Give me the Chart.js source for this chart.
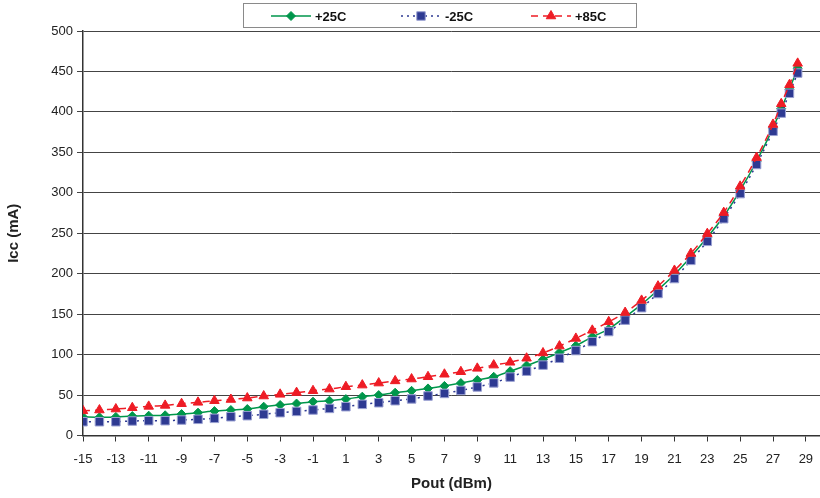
<!DOCTYPE html>
<html>
<head>
<meta charset="utf-8">
<style>
  html, body { margin: 0; padding: 0; background: #ffffff; }
  #wrap { width: 820px; height: 498px; }
</style>
<script src="https://cdn.jsdelivr.net/npm/chart.js@4.4.1/dist/chart.umd.min.js"></script>
</head>
<body>
<div id="wrap"><canvas id="chart" width="820" height="498"></canvas></div>
<script>
// Output power sweep (dBm)
const pout = [-15, -14, -13, -12, -11, -10, -9, -8, -7, -6, -5, -4, -3, -2, -1, 0,
  1, 2, 3, 4, 5, 6, 7, 8, 9, 10, 11, 12, 13, 14, 15, 16, 17, 18, 19, 20,
  21, 22, 23, 24, 25, 26, 27, 27.5, 28, 28.5];

// Supply current (mA) at each temperature
const icc25 = [23, 22.5, 23, 24, 24.5, 25, 26.5, 28.2, 30.2, 31.5, 32.7, 35.6, 37.7, 39.5, 41.8, 43,
  45, 48, 50, 52.9, 55.2, 58.2, 61.3, 64.8, 68.5, 72.6, 79.5, 86.5, 94, 102.5, 111, 122,
  131.5, 146.5, 162, 180, 199, 221, 245, 271, 303, 339, 380, 404, 428, 454];
const iccMinus25 = [17, 17, 17, 17.9, 18.3, 18.3, 19.1, 20, 21.2, 23.2, 24.5, 26.2, 28.2, 29.8, 31.5, 33.5,
  35.6, 38.5, 40.5, 43, 45.2, 48.8, 52, 55.7, 60, 65, 72.2, 79.5, 87, 95.5, 105, 116,
  128.5, 142.6, 158, 175.5, 194, 216.5, 240, 268, 299, 335, 376, 398.5, 423, 448];
const icc85 = [30.5, 31.5, 32.7, 34.3, 36, 37.2, 39.3, 41, 43, 44.5, 46.3, 48.8, 50.9, 53, 55.3, 57.4,
  60.3, 62.3, 64.8, 67.5, 69.8, 72.6, 75.7, 78.8, 83, 87, 90.5, 95.5, 102, 110.5, 120, 130,
  140.5, 152, 167, 184.6, 204, 225, 249.5, 275.5, 308, 343.5, 384.5, 410, 433.5, 460];

// Axis tick labels
const xTicks = [-15, -13, -11, -9, -7, -5, -3, -1, 1, 3, 5, 7, 9, 11, 13, 15, 17, 19, 21, 23, 25, 27, 29];
const yTicks = [0, 50, 100, 150, 200, 250, 300, 350, 400, 450, 500];

const seriesNames = ['+25C', '-25C', '+85C'];

const pairs = ys => pout.map((x, i) => ({ x: x, y: ys[i] }));

const FONT = "'Liberation Sans', Arial, Helvetica, sans-serif";

// Boxed legend across the top, each entry showing line style + marker
const boxedLegend = {
  id: 'boxedLegend',
  afterDraw(chart) {
    const ctx = chart.ctx;
    ctx.save();
    ctx.strokeStyle = '#8a8a8a';
    ctx.lineWidth = 1;
    ctx.strokeRect(243.5, 3.5, 393, 24);
    const cy = 16;
    chart.data.datasets.forEach((ds, i) => {
      const x0 = 271 + 130 * i;
      ctx.save();
      ctx.strokeStyle = ds.borderColor;
      ctx.lineWidth = ds.borderWidth;
      ctx.setLineDash(ds.borderDash || []);
      ctx.beginPath();
      ctx.moveTo(x0, cy);
      ctx.lineTo(x0 + 40, cy);
      ctx.stroke();
      ctx.restore();
      ctx.save();
      ctx.fillStyle = ds.pointBackgroundColor;
      ctx.strokeStyle = ds.pointBorderColor;
      ctx.lineWidth = ds.pointBorderWidth;
      Chart.helpers.drawPoint(ctx, { pointStyle: ds.pointStyle, radius: ds.pointRadius, borderWidth: ds.pointBorderWidth, rotation: 0 }, x0 + 20, cy);
      ctx.restore();
      ctx.fillStyle = '#111';
      ctx.font = 'bold 13px ' + FONT;
      ctx.textBaseline = 'middle';
      ctx.textAlign = 'left';
      ctx.fillText(ds.label, x0 + 44, cy + 1);
    });
    ctx.restore();
  }
};

new Chart(document.getElementById('chart'), {
  type: 'line',
  data: {
    datasets: [
      {
        label: seriesNames[0],
        data: pairs(icc25),
        borderColor: '#00964b',
        borderWidth: 1.5,
        tension: 0.3,
        pointStyle: 'rectRot',
        pointRadius: 4.5,
        pointBackgroundColor: '#00964b',
        pointBorderColor: '#00964b',
        pointBorderWidth: 1,
        order: 3
      },
      {
        label: seriesNames[1],
        data: pairs(iccMinus25),
        borderColor: '#2e3a92',
        borderWidth: 1.5,
        borderDash: [2, 4],
        tension: 0.3,
        pointStyle: 'rect',
        pointRadius: 6,
        pointBackgroundColor: '#2e3a92',
        pointBorderColor: '#9aa0d2',
        pointBorderWidth: 1,
        order: 2
      },
      {
        label: seriesNames[2],
        data: pairs(icc85),
        borderColor: '#ee1c25',
        borderWidth: 1.5,
        borderDash: [7, 5],
        tension: 0.3,
        pointStyle: 'triangle',
        pointRadius: 5.5,
        pointBackgroundColor: '#ee1c25',
        pointBorderColor: '#ee1c25',
        pointBorderWidth: 1,
        order: 1
      }
    ]
  },
  options: {
    responsive: false,
    animation: false,
    devicePixelRatio: 1,
    layout: { autoPadding: false, padding: { top: 31, right: 0, left: 0, bottom: 0 } },
    plugins: {
      legend: { display: false },
      tooltip: { enabled: false }
    },
    scales: {
      x: {
        type: 'linear',
        min: -15,
        max: 29.86,
        afterBuildTicks: s => { s.ticks = xTicks.map(v => ({ value: v })); },
        afterFit: s => { s.height = 62.5; s.paddingRight = 0; s.paddingLeft = 0; },
        grid: { drawOnChartArea: false, drawTicks: true, tickLength: 6, color: '#333' },
        border: { display: true, color: '#333', width: 1.5 },
        ticks: {
          autoSkip: false, maxRotation: 0, padding: 10,
          color: '#222', font: { family: FONT, size: 13 }
        },
        title: {
          display: true, text: 'Pout (dBm)', color: '#222',
          font: { family: FONT, size: 15, weight: 'bold' },
          padding: { top: 4, bottom: 5 }
        }
      },
      y: {
        type: 'linear',
        min: 0,
        max: 500,
        afterBuildTicks: s => { s.ticks = yTicks.map(v => ({ value: v })); },
        afterFit: s => { s.width = 83; },
        grid: { drawTicks: true, tickLength: 6, color: '#444', lineWidth: 1 },
        border: { display: true, color: '#333', width: 1.5 },
        ticks: {
          padding: 4, color: '#222', font: { family: FONT, size: 13 }
        },
        title: {
          display: true, text: 'Icc (mA)', color: '#222',
          font: { family: FONT, size: 15, weight: 'bold' },
          padding: { top: 5, bottom: 4 }
        }
      }
    }
  },
  plugins: [boxedLegend]
});
</script>
</body>
</html>
